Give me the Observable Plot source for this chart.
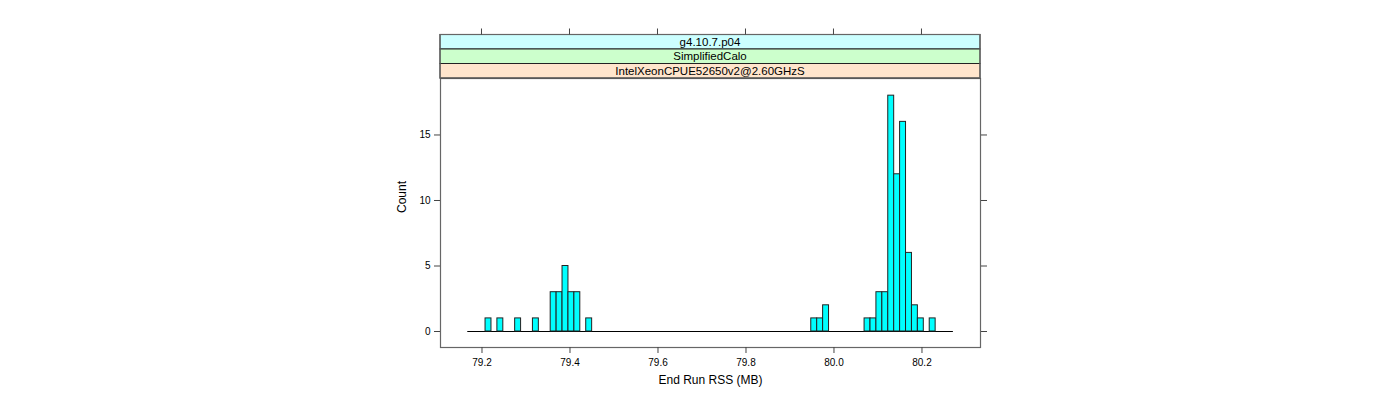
<!DOCTYPE html>
<html>
<head>
<meta charset="utf-8">
<script src="https://cdn.jsdelivr.net/npm/d3@7"></script>
<script src="https://cdn.jsdelivr.net/npm/@observablehq/plot@0.6"></script>
<style>
  html, body { margin: 0; padding: 0; background: white; }
</style>
</head>
<body>
<div id="chart"></div>
<script>
// Histogram bins (lattice-style): equal-width bins starting at binStart
const binStart = 79.1677;
const binWidth = 0.01346;
const nBins = 82;
const binIndex = [3, 5, 8, 11, 14, 15, 16, 17, 18, 20, 58, 59, 60, 67, 68, 69, 70, 71, 72, 73, 74, 75, 76, 78];
const binCount = [1, 1, 1, 1, 3, 3, 5, 3, 3, 1, 1, 1, 2, 1, 1, 3, 3, 18, 12, 16, 6, 2, 1, 1];
const xTicks = [79.2, 79.4, 79.6, 79.8, 80.0, 80.2];
const yTicks = [0, 5, 10, 15];
const strips = ["g4.10.7.p04", "SimplifiedCalo", "IntelXeonCPUE52650v2@2.60GHzS"];
const stripColors = ["#CCFFFF", "#CCFFCC", "#FFE5CC"];
const xLabel = "End Run RSS (MB)";
const yLabel = "Count";

const bins = binIndex.map((i, k) => ({
  x1: binStart + i * binWidth,
  x2: binStart + (i + 1) * binWidth,
  count: binCount[k]
}));
const baseline = [{x1: binStart, x2: binStart + nBins * binWidth}];

const font = "'Liberation Sans', Arial, Helvetica, sans-serif";
const axisColor = "#444";

const plot = Plot.plot({
  width: 1400,
  height: 400,
  marginLeft: 440,
  marginRight: 420,
  marginTop: 78,
  marginBottom: 53,
  style: {fontFamily: font, fontSize: "10px", background: "white", color: "black"},
  x: {domain: [79.1057, 80.333]},
  y: {domain: [-1.22, 19.31]},
  marks: [
    Plot.ruleY(baseline, {x1: "x1", x2: "x2", y: 0, stroke: "black", strokeWidth: 1}),
    Plot.rect(bins, {x1: "x1", x2: "x2", y1: 0, y2: "count", fill: "#00FFFF", stroke: "#222", strokeWidth: 1}),
    Plot.frame({stroke: "#666", strokeWidth: 1.2}),
    Plot.axisX({ticks: xTicks, tickSize: 6, tickPadding: 5, tickFormat: d => d.toFixed(1), label: null, stroke: axisColor, fill: "black"}),
    Plot.axisY({anchor: "left", ticks: yTicks, tickSize: 6, tickPadding: 4, label: null, stroke: axisColor, fill: "black"}),
    Plot.axisY({anchor: "right", ticks: yTicks, tickSize: 6, tickFormat: () => "", label: null, stroke: axisColor}),
    Plot.text([xLabel], {frameAnchor: "bottom", dy: 36, text: d => d, fontSize: 12, fill: "black"}),
    Plot.text([yLabel], {frameAnchor: "left", dx: -38, rotate: -90, text: d => d, fontSize: 12, fill: "black"})
  ]
});

document.getElementById("chart").appendChild(plot);

// Strips above the panel, and the top ticks, placed with the plot's own x scale
const sx = plot.scale("x");
const svg = d3.select(plot);
const left = 440, right = 980;
const stripTop = 34.5, stripH = 14.5;
const g = svg.append("g");
strips.forEach((s, i) => {
  const y0 = stripTop + i * stripH;
  g.append("rect")
    .attr("x", left).attr("y", y0)
    .attr("width", right - left).attr("height", stripH)
    .attr("fill", stripColors[i])
    .attr("stroke", "#222").attr("stroke-width", 1);
  g.append("text")
    .attr("x", (left + right) / 2).attr("y", y0 + stripH / 2)
    .attr("dy", "0.35em")
    .attr("text-anchor", "middle")
    .attr("font-family", font)
    .attr("font-size", "11.5px")
    .attr("fill", "black")
    .text(s);
});
g.append("rect")
  .attr("x", left).attr("y", stripTop)
  .attr("width", right - left).attr("height", 78 - stripTop)
  .attr("fill", "none").attr("stroke", "#666").attr("stroke-width", 1.2);
xTicks.forEach(t => {
  const x = sx.apply(t);
  g.append("line")
    .attr("x1", x).attr("x2", x)
    .attr("y1", stripTop).attr("y2", stripTop - 6)
    .attr("stroke", axisColor);
});
</script>
</body>
</html>
